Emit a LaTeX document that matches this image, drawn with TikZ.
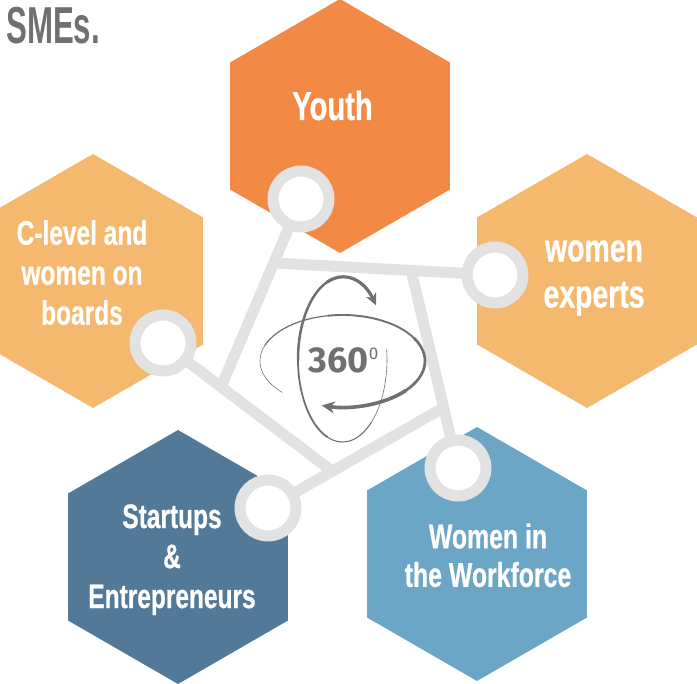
\documentclass[tikz,border=0pt]{standalone}
\usepackage{xcolor}
\usepackage{fontspec}
\usepackage{tikz}
\usetikzlibrary{shapes,arrows.meta,positioning}

\newfontfamily\hexfont{Liberation Sans}[FakeStretch=0.72,FakeBold=0.6]
\newfontfamily\titlefont{Liberation Sans}[FakeStretch=0.6]
\newfontfamily\iconfont{Fira Sans}

\definecolor{youthorange}{RGB}{242,138,69}
\definecolor{softorange}{RGB}{244,185,110}
\definecolor{deepblue}{RGB}{82,122,152}
\definecolor{skyblue}{RGB}{107,166,198}
\definecolor{ringgrey}{RGB}{226,226,226}
\definecolor{icongrey}{RGB}{112,112,112}

\begin{document}
\begin{tikzpicture}[
      x=1pt, y=-1pt,
      hexagon/.style={regular polygon, regular polygon sides=6, shape border rotate=30, minimum size=254pt, inner sep=0pt, draw=none},
      hextext/.style 2 args={text=white, align=center, inner sep=0pt, font=\hexfont\bfseries\fontsize{#1}{#2}\selectfont},
      spoke/.style={draw=ringgrey, line width=11pt},
      ring/.style={circle, draw=ringgrey, fill=white, line width=11pt, minimum size=56pt, inner sep=0pt},
      orbit/.style={draw=icongrey, line cap=round}
    ]
      \useasboundingbox (0,0) rectangle (697,684);

      \node [hexagon, fill=youthorange] (youth) at (340,126) {};
      \node [hexagon, fill=softorange] (clevel) at (93,281) {};
      \node [hexagon, fill=softorange] (experts) at (587,281) {};
      \node [hexagon, fill=deepblue] (startups) at (178,557) {};
      \node [hexagon, fill=skyblue] (workforce) at (477,554) {};

      \coordinate (cyouth) at (301,199);
      \coordinate (cexperts) at (495,275);
      \coordinate (cclevel) at (163,343);
      \coordinate (cstartups) at (268,508);
      \coordinate (cworkforce) at (458,468);

      \coordinate (va) at (221,387);
      \coordinate (vb) at (332,471);
      \coordinate (vc) at (443.6,407.6);
      \coordinate (vd) at (411,270);
      \coordinate (ve) at (274,263);

      \draw [spoke] (cyouth) -- (va);
      \draw [spoke] (cclevel) -- (vb);
      \draw [spoke] (cstartups) -- (vc);
      \draw [spoke] (cworkforce) -- (vd);
      \draw [spoke] (cexperts) -- (ve);

      \foreach \c in {cyouth, cexperts, cclevel, cstartups, cworkforce}
        \node [ring] (ring-\c) at (\c) {};

      \node [hextext={40.5}{44}, anchor=base] (youthtext) at (332.5,120) {Youth};
      \node [hextext={34}{40}] (cleveltext) at (82,272.5) {C-level and\\women on\\boards};
      \node [hextext={39.5}{46}] (expertstext) at (594,278) {women\\experts};
      \node [hextext={34}{40}] (startupstext) at (172,559.7) {Startups\\\&\\Entrepreneurs};
      \node [hextext={34.5}{38.5}] (workforcetext) at (488,555.3) {Women in\\the Workforce};

      \node [anchor=base west, inner sep=0pt, text=icongrey, font=\titlefont\bfseries\fontsize{52}{52}\selectfont] (smes) at (6,44) {SMEs.};

      \begin{scope}[shift={(342.5,359.5)}]
        \foreach \a/\b/\w in {353/410/0.6, 410/470/1.1, 470/540/1.8, 540/610/2.5}
          \draw [orbit, line width=\w pt] (\a:44.5 and 82.5) arc[start angle=\a, end angle=\b, x radius=44.5, y radius=82.5];
        \draw [orbit, line width=3.2pt, -{Stealth[length=12pt,width=11pt]}] (610:44.5 and 82.5) arc[start angle=610, end angle=679, x radius=44.5, y radius=82.5];
      \end{scope}
      \begin{scope}[shift={(342.5,361)}]
        \foreach \a/\b/\w in {137/200/0.6, 200/260/1.2, 260/330/1.9, 330/400/2.7}
          \draw [orbit, line width=\w pt] (\a:82.5 and 46) arc[start angle=\a, end angle=\b, x radius=82.5, y radius=46];
        \draw [orbit, line width=3.6pt, -{Stealth[length=13pt,width=12pt]}] (400:82.5 and 46) arc[start angle=400, end angle=464.6, x radius=82.5, y radius=46];
      \end{scope}

      \node [anchor=base, inner sep=0pt, text=icongrey, font=\iconfont\bfseries\fontsize{36}{36}\selectfont] (deg) at (338.5,373) {360};
      \node [anchor=north west, inner sep=0pt, text=icongrey, font=\iconfont\fontsize{17}{17}\selectfont] (degsign) at (deg.north east) {0};
    \end{tikzpicture}
\end{document}
